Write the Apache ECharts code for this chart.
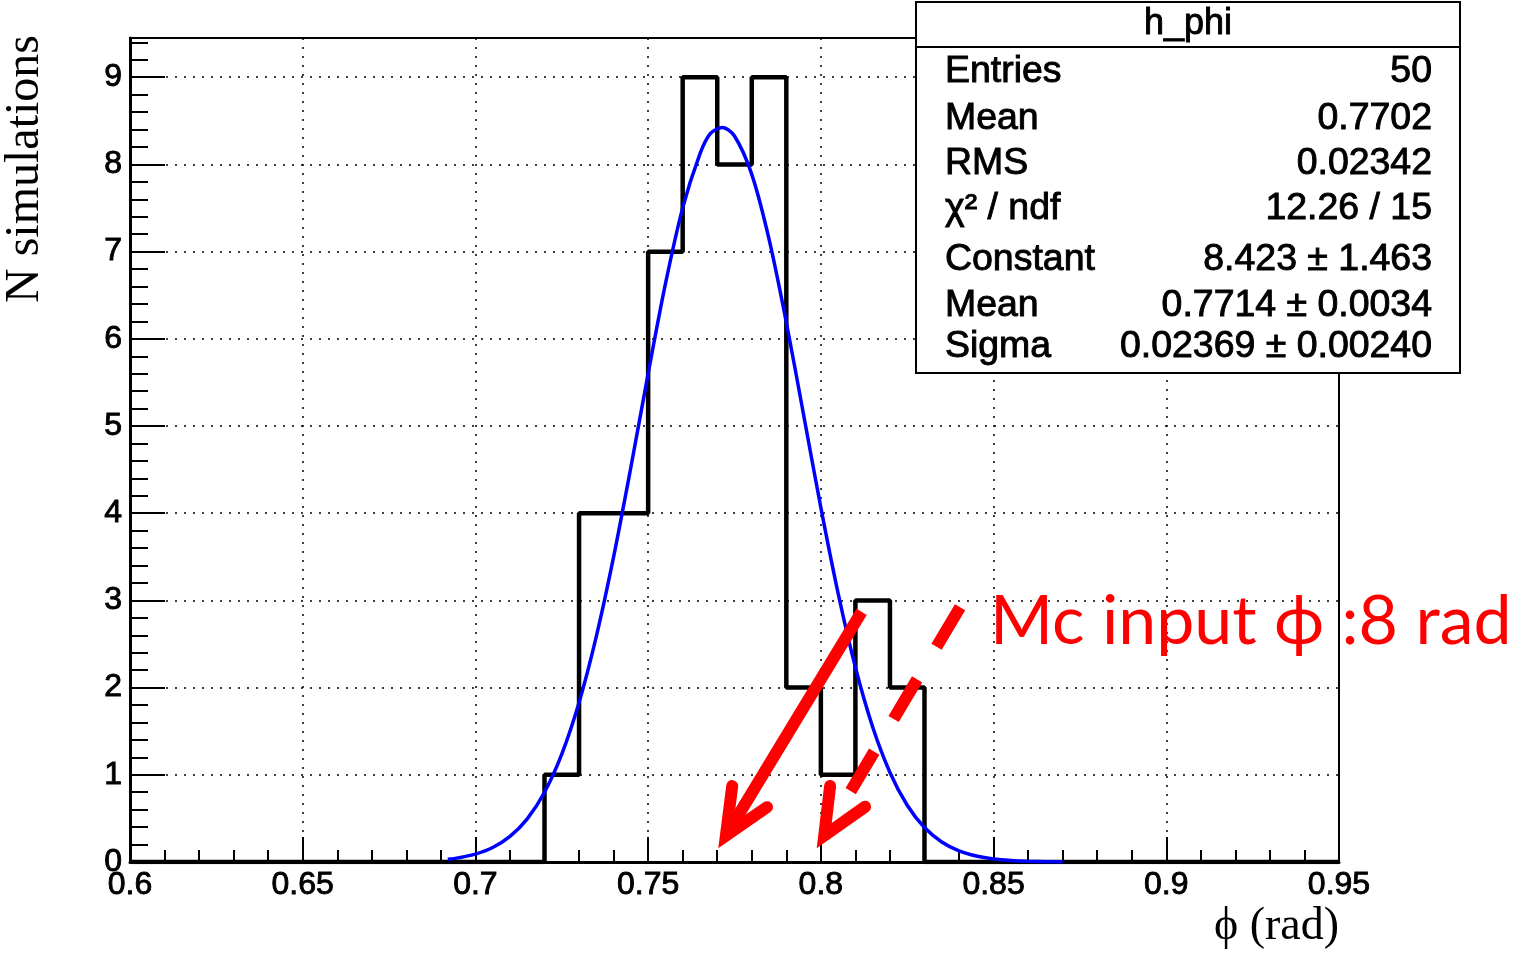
<!DOCTYPE html>
<html>
<head>
<meta charset="utf-8">
<script src="https://cdn.jsdelivr.net/npm/echarts@6/dist/echarts.min.js"></script>
<style>
html,body{margin:0;padding:0;background:#fff;}
#chart{width:1513px;height:954px;}
</style>
</head>
<body>
<div id="chart"></div>
<script>
// ---- data ----
// histogram bin edges (merged empty regions at both ends) and counts per bin
const binEdges = [0.60, 0.72, 0.73, 0.74, 0.75, 0.76, 0.77, 0.78, 0.79, 0.80, 0.81, 0.82, 0.83, 0.95];
const binCounts = [0, 1, 4, 4, 7, 9, 8, 9, 2, 1, 3, 2, 0];

// gaussian fit curve
const fitX = [0.692,0.695,0.700,0.705,0.710,0.715,0.720,0.725,0.730,0.735,0.740,0.745,0.750,0.755,0.760,0.765,0.768,0.7715,0.775,0.780,0.785,0.790,0.795,0.800,0.805,0.810,0.815,0.820,0.825,0.830,0.835,0.840,0.845,0.850,0.855,0.860,0.865,0.870];
const fitY = [0.031,0.047,0.090,0.166,0.293,0.495,0.800,1.237,1.829,2.588,3.499,4.527,5.601,6.629,7.502,8.122,8.354,8.423,8.326,7.886,7.143,6.189,5.129,4.064,3.081,2.233,1.548,1.027,0.651,0.395,0.229,0.127,0.068,0.034,0.017,0.008,0.003,0.002];

// annotation arrows: [tailX, tailY, tipX, tipY, dashed]
const arrowTail = [[0.8118, 2.868], [0.8403, 2.922]];
const arrowTip = [[0.7703, 0.157], [0.7988, 0.157]];
const arrowDashed = [0, 1];

// stats box text
const statsTitle = 'h_phi';
const statLabels = ['Entries', 'Mean', 'RMS', 'χ² / ndf', 'Constant', 'Mean', 'Sigma'];
const statValues = ['50', '0.7702', '0.02342', '12.26 / 15', '8.423 ± 1.463', '0.7714 ± 0.0034', '0.02369 ± 0.00240'];

const xTitle = 'ϕ (rad)';
const yTitle = 'N simulations';
const annotationText = 'Mc input ϕ :8 rad';

// ---- build ----
const histData = binCounts.map((c, i) => [binEdges[i], c]);
histData.push([binEdges[binEdges.length - 1], binCounts[binCounts.length - 1]]);
const fitData = fitX.map((x, i) => [x, fitY[i]]);
const arrowData = arrowTail.map((t, i) => [t[0], t[1], arrowTip[i][0], arrowTip[i][1], arrowDashed[i]]);

function renderArrow(params, api) {
  const p1 = api.coord([api.value(0), api.value(1)]);
  const tip = api.coord([api.value(2), api.value(3)]);
  const dashed = api.value(4) === 1;
  const lw = 12;
  const a = 24 * Math.PI / 180;
  const ang = Math.atan2(p1[1] - tip[1], p1[0] - tip[0]);
  const back = (lw / 2) / Math.sin(a);
  const v = [tip[0] + back * Math.cos(ang), tip[1] + back * Math.sin(ang)];
  const L = 50;
  const arm1 = [v[0] + L * Math.cos(ang + a), v[1] + L * Math.sin(ang + a)];
  const arm2 = [v[0] + L * Math.cos(ang - a), v[1] + L * Math.sin(ang - a)];
  return {
    type: 'group',
    children: [
      { type: 'line', shape: { x1: p1[0], y1: p1[1], x2: v[0], y2: v[1] },
        style: { stroke: '#ff0000', lineWidth: lw, lineCap: 'butt', lineDash: dashed ? [46, 38] : null } },
      { type: 'polyline', shape: { points: [arm1, v, arm2] },
        style: { stroke: '#ff0000', fill: null, lineWidth: lw, lineCap: 'round', lineJoin: 'miter' } }
    ]
  };
}

const statsFont = '"Liberation Sans", Arial, Helvetica, sans-serif';
const labelCenters = [72, 119, 164, 209, 260, 306, 347];
const graphics = [
  { type: 'rect', z: 100, shape: { x: 916, y: 2, width: 544, height: 371 },
    style: { fill: '#fff', stroke: '#000', lineWidth: 2 } },
  { type: 'line', z: 101, shape: { x1: 916, y1: 47, x2: 1460, y2: 47 },
    style: { stroke: '#000', lineWidth: 2 } },
  { type: 'text', z: 102, x: 1188, y: 24,
    style: { text: statsTitle, fill: '#000', stroke: '#000', lineWidth: 0.9, font: '36px ' + statsFont, align: 'center', verticalAlign: 'middle' } }
];
statLabels.forEach((t, i) => {
  graphics.push({ type: 'text', z: 102, x: 945, y: labelCenters[i], scaleX: 1.04,
    style: { text: t, fill: '#000', stroke: '#000', lineWidth: 0.9, font: '36px ' + statsFont, align: 'left', verticalAlign: 'middle' } });
  graphics.push({ type: 'text', z: 102, x: 1432, y: labelCenters[i], scaleX: 1.04,
    style: { text: statValues[i], fill: '#000', stroke: '#000', lineWidth: 0.9, font: '36px ' + statsFont, align: 'right', verticalAlign: 'middle' } });
});
graphics.push({ type: 'text', z: 102, x: 25, y: 35, rotation: Math.PI / 2,
  style: { text: yTitle, fill: '#000', font: '48px "Liberation Serif", "Times New Roman", serif', align: 'right', verticalAlign: 'middle' } });
graphics.push({ type: 'text', z: 102, x: 1339, y: 927,
  style: { text: xTitle, fill: '#000', font: '46px "Liberation Serif", "Times New Roman", serif', align: 'right', verticalAlign: 'middle' } });
graphics.push({ type: 'text', z: 103, x: 990, y: 622,
  style: { text: annotationText, fill: '#ff0000', font: '68px Lato, "Open Sans", sans-serif', align: 'left', verticalAlign: 'middle' } });

const axisFont = { fontFamily: '"Liberation Sans", Arial, Helvetica, sans-serif', fontSize: 32, color: '#000', textBorderColor: '#000', textBorderWidth: 0.9 };
const gridDots = { show: true, lineStyle: { color: '#000', width: 1.5, type: [2, 7] } };

const chart = echarts.init(document.getElementById('chart'), null, { renderer: 'canvas' });
chart.setOption({
  animation: false,
  backgroundColor: '#fff',
  grid: { left: 130, right: 174, top: 38, bottom: 92, show: true, borderColor: '#000', borderWidth: 2, backgroundColor: 'transparent' },
  xAxis: [{
    type: 'value', min: 0.6, max: 0.95, interval: 0.05,
    axisLine: { show: true, onZero: false, lineStyle: { color: '#000', width: 3 } },
    axisTick: { show: true, inside: true, length: 25, lineStyle: { color: '#000', width: 2 } },
    minorTick: { show: true, splitNumber: 5, length: 12, lineStyle: { color: '#000', width: 2 } },
    axisLabel: Object.assign({ margin: 7 }, axisFont),
    splitLine: gridDots
  }],
  yAxis: [{
    type: 'value', min: 0, max: 9.45, interval: 1,
    axisLine: { show: true, onZero: false, lineStyle: { color: '#000', width: 3 } },
    axisTick: { show: true, inside: true, length: 35, lineStyle: { color: '#000', width: 2 } },
    axisLabel: Object.assign({ margin: 8, formatter: v => (Math.abs(v - Math.round(v)) < 1e-9 ? String(Math.round(v)) : '') }, axisFont),
    splitLine: gridDots
  }, {
    type: 'value', min: 0, max: 9.45, interval: 0.2, position: 'left',
    axisLine: { show: false },
    axisTick: { show: true, inside: true, length: 18, lineStyle: { color: '#000', width: 2 } },
    axisLabel: { show: false },
    splitLine: { show: false }
  }],
  series: [
    { type: 'line', name: 'h_phi', data: histData, step: 'end', symbol: 'none', z: 3,
      lineStyle: { color: '#000', width: 4.5 }, itemStyle: { color: '#000' } },
    { type: 'line', name: 'fit', data: fitData, smooth: 0.3, symbol: 'none', z: 4,
      lineStyle: { color: '#0000ff', width: 3.5 }, itemStyle: { color: '#0000ff' } },
    { type: 'custom', name: 'arrows', data: arrowData, renderItem: renderArrow, clip: false, z: 5,
      encode: { x: [0, 2], y: [1, 3] } }
  ],
  graphic: graphics
});
</script>
</body>
</html>
